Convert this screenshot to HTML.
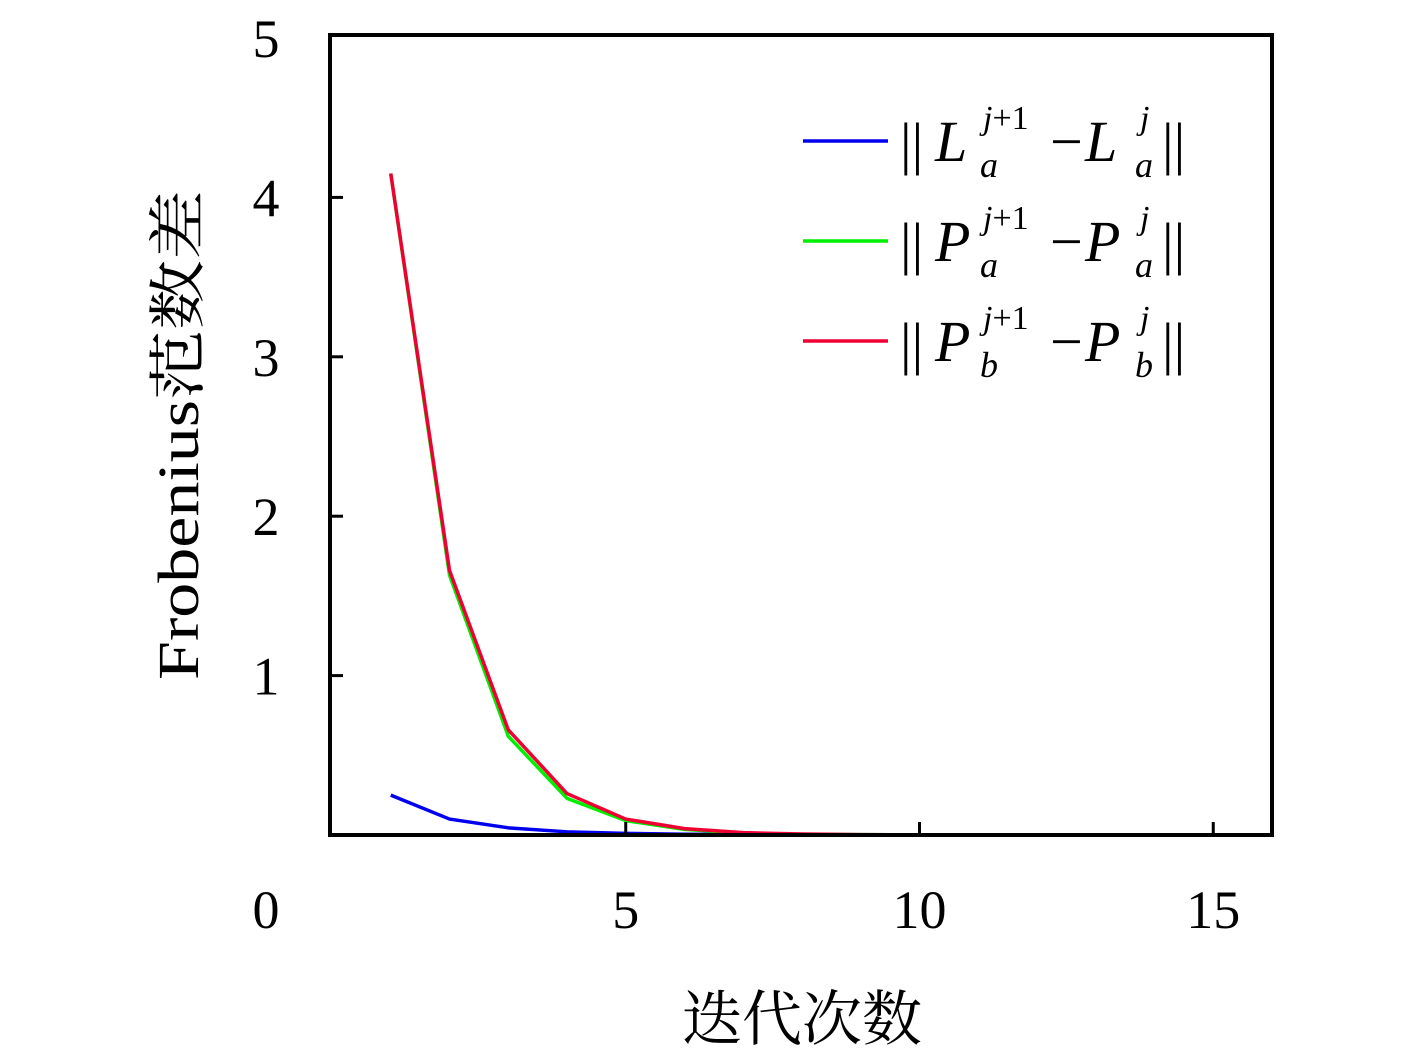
<!DOCTYPE html>
<html><head><meta charset="utf-8">
<style>
html,body{margin:0;padding:0;background:#fff;}
svg{display:block;}
text{font-family:"Liberation Serif","Noto Serif CJK SC",serif;fill:#000;}
</style></head>
<body>
<svg id="chart" width="1417" height="1050" viewBox="0 0 1417 1050">
<g id="plot"></g>
</svg>
<script>
const xTicks=[0,5,10,15];
const yTicks=[1,2,3,4,5];
const iterations=[1,2,3,4,5,6,7,8,9,10,11,12,13,14,15];
const laDiff=[0.25,0.1,0.045,0.02,0.01,0.005,0.003,0.002,0.001,0.001,0.0005,0.0005,0.0003,0.0002,0.0001];
const paDiff=[4.15,1.63,0.62,0.23,0.09,0.035,0.012,0.005,0.002,0.001,0.0005,0.0003,0.0002,0.0001,0.0001];
const pbDiff=[4.15,1.66,0.66,0.26,0.1,0.04,0.015,0.006,0.002,0.001,0.0005,0.0003,0.0002,0.0001,0.0001];
const L=330,R=1272,T=35,B=835,xMax=16,yMax=5;
const xs=v=>332+v*(R-332)/xMax;
const ys=v=>B-v*(B-38)/yMax;
const NS="http://www.w3.org/2000/svg";
const g=document.getElementById('plot');
function mk(t,a){const e=document.createElementNS(NS,t);for(const k in a)e.setAttribute(k,a[k]);g.appendChild(e);return e;}
const series=[[laDiff,'#0000ee','series-la'],[paDiff,'#00ee00','series-pa'],[pbDiff,'#ee0033','series-pb']];
series.forEach(s=>{
 const p=mk('polyline',{points:iterations.map((x,i)=>xs(x)+','+ys(s[0][i])).join(' '),fill:'none',stroke:s[1],'stroke-width':3.5,'stroke-linejoin':'round'});
 
 
});
const f=mk('rect',{x:L,y:T,width:R-L,height:B-T,fill:'none',stroke:'#000','stroke-width':4});


xTicks.forEach(v=>{
 if(v>0){const t=mk('line',{x1:xs(v),x2:xs(v),y1:B,y2:B-13,stroke:'#000','stroke-width':3});
 
 }
 const l=mk('text',{x:xs(v)-(v===0?66:0),y:928,'font-size':54,'text-anchor':'middle'});l.textContent=v;
 
 
});
yTicks.forEach(v=>{
 if(v<5){const t=mk('line',{x1:L,x2:L+13,y1:ys(v),y2:ys(v),stroke:'#000','stroke-width':3});
 
 }
 const l=mk('text',{x:266,y:ys(v)+19,'font-size':54,'text-anchor':'middle'});l.textContent=v;
 
 
});
const xt=mk('text',{x:802,y:1040,'font-size':60,'text-anchor':'middle'});xt.textContent='迭代次数';


const yt=mk('text',{x:0,y:0,'font-size':58,'text-anchor':'middle','textLength':490,'lengthAdjust':'spacingAndGlyphs',transform:'translate(198,435) rotate(-90)'});yt.textContent='Frobenius范数差';


const leg=[['L','a','#0000ee'],['P','a','#00ee00'],['P','b','#ee0033']];
leg.forEach((e,i)=>{
 const y=141+i*100;
 const ln=mk('line',{x1:803,x2:888,y1:y,y2:y,stroke:e[2],'stroke-width':3.5});
 
 
 const t=mk('text',{x:0,y:0,'font-size':58});
 
 
 const b=y+20;
 t.innerHTML=`<tspan x="900" y="${b+2}">||</tspan><tspan x="935" y="${b}" font-style="italic">${e[0]}</tspan><tspan x="980" y="${b+16}" font-style="italic" font-size="36">${e[1]}</tspan><tspan x="983" y="${b-32}" font-size="34"><tspan font-style="italic">j</tspan>+1</tspan><tspan x="1050" y="${b}">−</tspan><tspan x="1085" y="${b}" font-style="italic">${e[0]}</tspan><tspan x="1135" y="${b+16}" font-style="italic" font-size="36">${e[1]}</tspan><tspan x="1140" y="${b-32}" font-style="italic" font-size="34">j</tspan><tspan x="1162" y="${b+2}">||</tspan>`;
});
</script>
</body></html>
